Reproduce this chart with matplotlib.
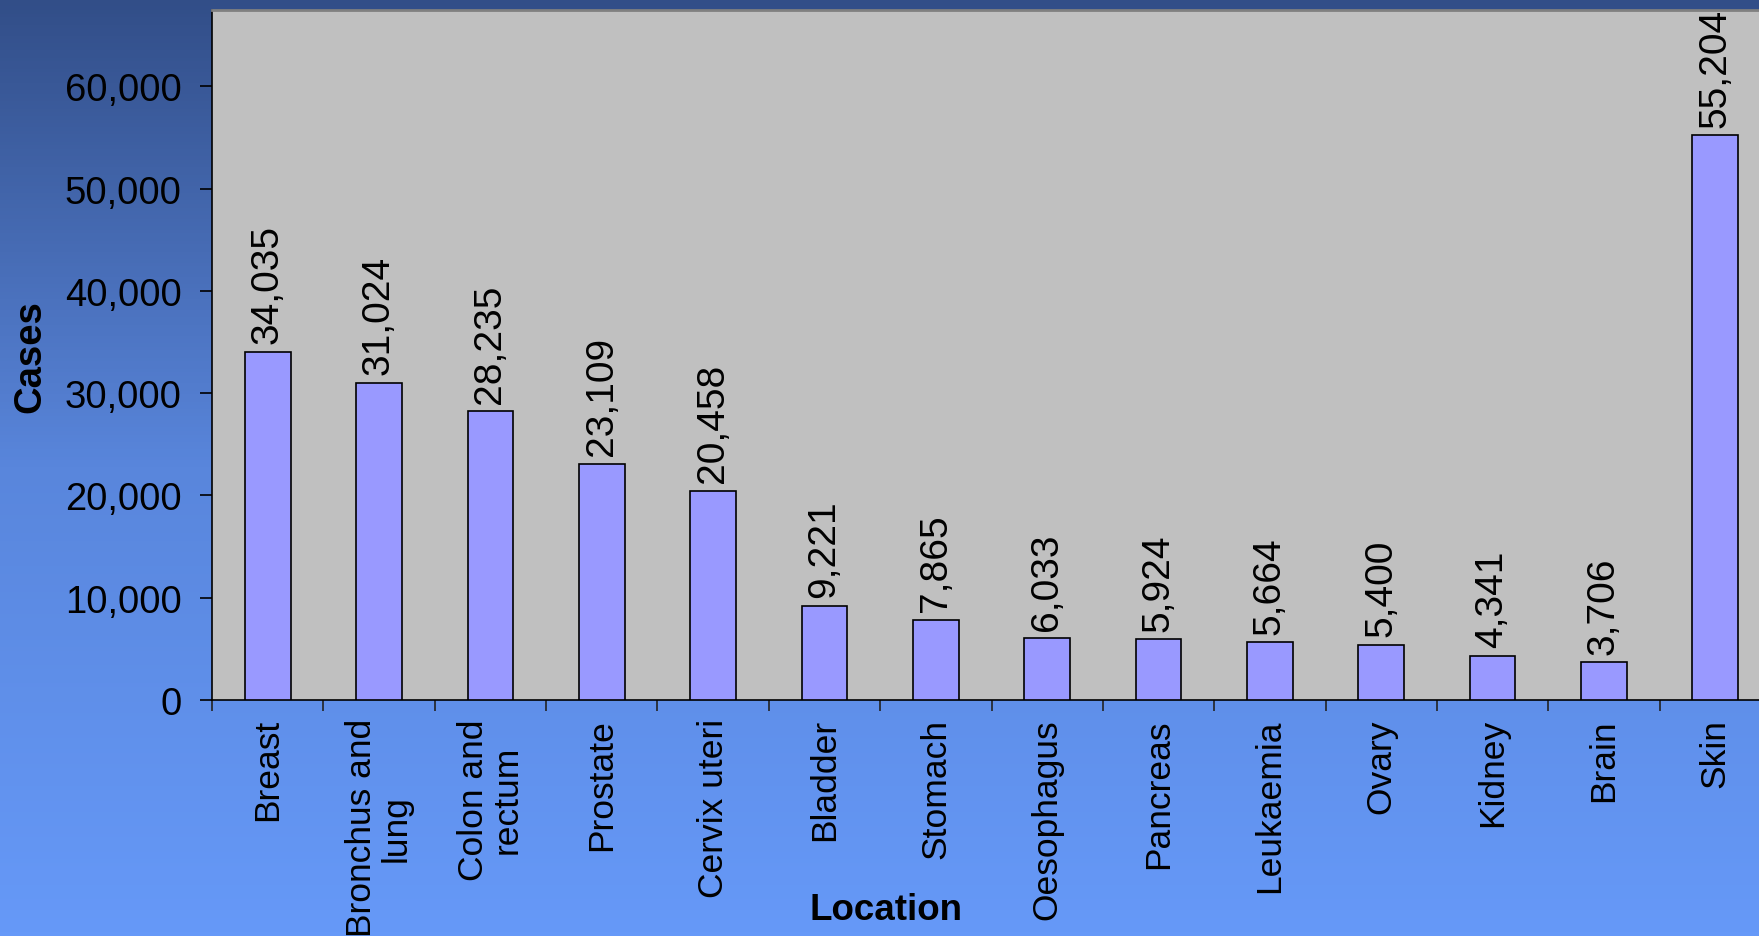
import numpy as np
import matplotlib
matplotlib.use('Agg')
import matplotlib.pyplot as plt
from matplotlib.colors import LinearSegmentedColormap
from matplotlib.ticker import FuncFormatter

# Datos del gráfico
locations = ['Breast', 'Bronchus and\nlung', 'Colon and\nrectum', 'Prostate',
             'Cervix uteri', 'Bladder', 'Stomach', 'Oesophagus', 'Pancreas',
             'Leukaemia', 'Ovary', 'Kidney', 'Brain', 'Skin']
cases = [34035, 31024, 28235, 23109, 20458, 9221, 7865, 6033, 5924,
         5664, 5400, 4341, 3706, 55204]
y_ticks = [0, 10000, 20000, 30000, 40000, 50000, 60000]

plt.rcParams['font.family'] = ['Liberation Sans', 'DejaVu Sans']

fig = plt.figure(figsize=(17.59, 9.37), dpi=100)

# Fondo degradado
bg = fig.add_axes([0, 0, 1, 1], zorder=-10)
grad_cmap = LinearSegmentedColormap.from_list('bg', ['#324E88', '#5986DC', '#6699F8'])
grad = np.linspace(0, 1, 256).reshape(-1, 1)
bg.imshow(grad, aspect='auto', cmap=grad_cmap, extent=[0, 1, 0, 1], origin='upper')
bg.axis('off')

# Área del gráfico
ax = fig.add_axes([212 / 1759, 1 - 701 / 937, (1771 - 212) / 1759, (701 - 11) / 937])
ax.set_facecolor('#C0C0C0')

x = np.arange(len(locations))
bars = ax.bar(x, cases, width=0.41, color='#9999FF', edgecolor='black', linewidth=1.2, zorder=3)

# Etiquetas de valor sobre las barras
for xi, val in zip(x, cases):
    ax.annotate(f'{val:,}', (xi, val), xytext=(0, 6), textcoords='offset points',
                rotation=90, ha='center', va='bottom', fontsize=28, color='black')

ax.set_xlim(-0.5, len(locations) - 0.5)
ax.set_ylim(0, 67450)

ax.set_yticks(y_ticks)
ax.yaxis.set_major_formatter(FuncFormatter(lambda v, p: f'{int(v):,}'))
ax.tick_params(axis='y', direction='out', length=9, width=1.2, pad=13,
               labelsize=27.5, colors='black')

ax.set_xticks(x)
ax.set_xticklabels(locations, rotation=90, ha='center', va='top', fontsize=25.5,
                   multialignment='center', linespacing=1.05)
ax.set_xticks(np.arange(-0.5, len(locations), 1), minor=True)
ax.tick_params(axis='x', which='major', length=0, pad=13)
ax.tick_params(axis='x', which='minor', direction='out', length=8, width=1.2, color='#222222')

for side in ['left', 'bottom']:
    ax.spines[side].set_color('black')
    ax.spines[side].set_linewidth(1.2)
ax.spines['top'].set_color('#808080')
ax.spines['top'].set_linewidth(2)
ax.spines['right'].set_visible(False)

fig.text(30 / 1759, 1 - 357 / 937, 'Cases', rotation=90, ha='center', va='center',
         fontsize=27.5, fontweight='bold')
fig.text(886 / 1759, 1 - 911 / 937, 'Location', ha='center', va='center',
         fontsize=26.5, fontweight='bold')

plt.savefig('out.png', dpi=100)
plt.close()
